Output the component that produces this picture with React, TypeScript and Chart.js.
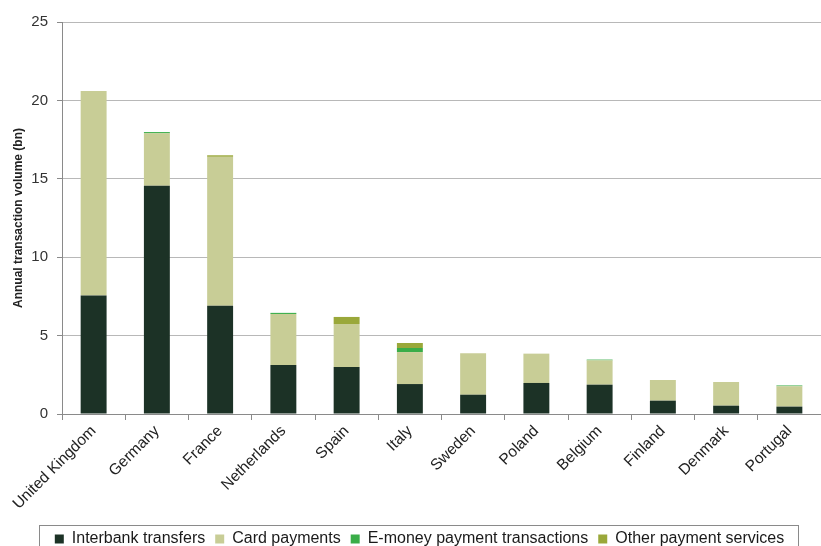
import React, { useEffect, useRef } from "react";
import { Chart, registerables } from "chart.js";

Chart.register(...registerables);

const countries = [
  "United Kingdom", "Germany", "France", "Netherlands", "Spain", "Italy",
  "Sweden", "Poland", "Belgium", "Finland", "Denmark", "Portugal",
];
const interbank = [7.55, 14.55, 6.9, 3.13, 3.0, 1.91, 1.23, 1.98, 1.87, 0.85, 0.53, 0.47];
const card = [13.05, 3.35, 9.5, 3.25, 2.74, 2.04, 2.64, 1.87, 1.55, 1.32, 1.51, 1.3];
const emoney = [0, 0.08, 0, 0.07, 0, 0.26, 0, 0, 0.05, 0, 0, 0.05];
const other = [0, 0, 0.1, 0, 0.45, 0.32, 0, 0, 0, 0, 0, 0];
const yTicks = [0, 5, 10, 15, 20, 25];

const FONT = "'Liberation Sans', Arial, sans-serif";

const legendBox = {
  id: "legendBox",
  afterLayout(chart: any) {
    const lg = chart.legend;
    if (lg) { lg.left += 9; lg.right += 9; }
  },
  afterDraw(chart: any) {
    const lg = chart.legend;
    if (!lg || !lg.legendHitBoxes || !lg.legendHitBoxes.length) return;
    const boxes = lg.legendHitBoxes;
    let minX = Infinity, maxX = -Infinity, minY = Infinity, maxY = -Infinity;
    for (const b of boxes) {
      minX = Math.min(minX, b.left);
      maxX = Math.max(maxX, b.left + b.width);
      minY = Math.min(minY, b.top);
      maxY = Math.max(maxY, b.top + b.height);
    }
    const ctx = chart.ctx;
    ctx.save();
    ctx.strokeStyle = "#8a8a8a";
    ctx.lineWidth = 1;
    ctx.strokeRect(Math.round(minX - 16) + 0.5, Math.round(minY - 6) + 0.5, Math.round(maxX - minX + 30), Math.round(maxY - minY + 14));
    ctx.restore();
  },
};

export default function App() {
  const ref = useRef<HTMLCanvasElement>(null);
  useEffect(() => {
    document.body.style.overflow = "hidden";
    const chart = new Chart(ref.current!, {
      type: "bar",
      data: {
        labels: countries,
        datasets: [
          { label: "Interbank transfers", data: interbank, backgroundColor: "#1c3226" },
          { label: "Card payments", data: card, backgroundColor: "#c8cd96" },
          { label: "E-money payment transactions", data: emoney, backgroundColor: "#3aad48" },
          { label: "Other payment services", data: other, backgroundColor: "#9aa83a" },
        ],
      },
      options: {
        responsive: false,
        animation: false,
        datasets: { bar: { categoryPercentage: 1, barPercentage: 0.41 } },
        layout: { padding: { top: 22, right: 0, left: 0, bottom: 0 } },
        plugins: {
          tooltip: { enabled: false },
          legend: {
            position: "bottom",
            labels: {
              boxWidth: 9,
              boxHeight: 9,
              padding: 10,
              color: "#1a1a1a",
              font: { family: FONT, size: 16 },
            },
          },
        },
        scales: {
          x: {
            stacked: true,
            afterFit: (s: any) => { s.height = 107; },
            grid: { display: true, drawOnChartArea: false, drawTicks: true, tickLength: 6, color: "#8a8a8a" },
            border: { color: "#8a8a8a" },
            ticks: {
              minRotation: 45,
              maxRotation: 45,
              color: "#222",
              font: { family: FONT, size: 15.5 },
              padding: 2,
            },
          },
          y: {
            stacked: true,
            min: 0,
            max: 25,
            afterFit: (s: any) => { s.width = 62; },
            afterBuildTicks: (s: any) => { s.ticks = yTicks.map((v) => ({ value: v })); },
            grid: { color: "#b8b8b8", drawTicks: true, tickLength: 5, tickColor: "#8a8a8a" },
            border: { color: "#8a8a8a" },
            ticks: { color: "#333", font: { family: FONT, size: 15 }, padding: 9 },
            title: {
              display: true,
              text: "Annual transaction volume (bn)",
              color: "#222",
              font: { family: FONT, size: 12, weight: "bold" },
              padding: { top: 11, bottom: 0 },
            },
          },
        },
      },
      plugins: [legendBox],
    });
    return () => chart.destroy();
  }, []);
  return (
    <div style={{ position: "fixed", left: 0, top: 0, width: 821, height: 546, overflow: "hidden", background: "#fff" }}>
      <canvas ref={ref} width={821} height={557} style={{ display: "block" }} />
    </div>
  );
}
